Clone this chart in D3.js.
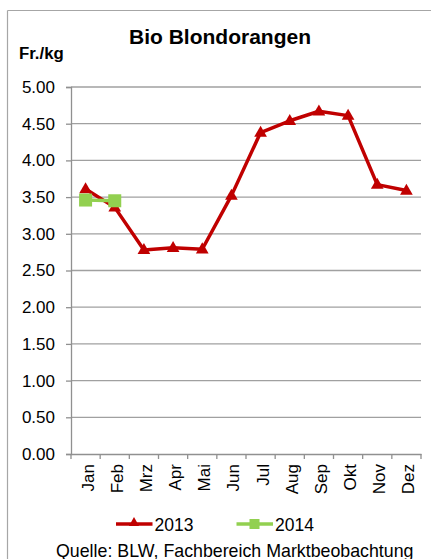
<!DOCTYPE html>
<html>
<head>
<meta charset="utf-8">
<script src="https://cdn.jsdelivr.net/npm/d3@7"></script>
<style>
  html, body { margin: 0; padding: 0; background: #fff; }
  svg { display: block; font-family: "Liberation Sans", Arial, sans-serif; }
</style>
</head>
<body>
<svg id="chart" width="431" height="559"></svg>
<script>
const months = ["Jan","Feb","Mrz","Apr","Mai","Jun","Jul","Aug","Sep","Okt","Nov","Dez"];
const values2013 = [3.61, 3.36, 2.78, 2.81, 2.79, 3.52, 4.38, 4.54, 4.67, 4.61, 3.67, 3.59];
const values2014 = [3.46, 3.45];
const yTicks = [0, 0.5, 1, 1.5, 2, 2.5, 3, 3.5, 4, 4.5, 5];
const seriesNames = ["2013", "2014"];
const titleText = "Bio Blondorangen";
const unitText = "Fr./kg";
const sourceText = "Quelle: BLW, Fachbereich Marktbeobachtung";

(function () {
const red = "#C00000", green = "#92D050";
const svg = d3.select("#chart");

// outer frame
svg.append("line").attr("x1", 7.5).attr("x2", 431).attr("y1", 10.5).attr("y2", 10.5)
  .attr("stroke", "#a6a6a6").attr("stroke-width", 1.2);
svg.append("line").attr("x1", 7.5).attr("x2", 7.5).attr("y1", 10.5).attr("y2", 559)
  .attr("stroke", "#a6a6a6").attr("stroke-width", 1.2);

const pLeft = 71, pRight = 421, pTop = 87, pBottom = 454;
const x = d3.scaleBand().domain(months).range([pLeft, pRight]);
const y = d3.scaleLinear().domain([0, 5]).range([pBottom, pTop]);

// gridlines
svg.append("g").selectAll("line").data(yTicks.filter(d => d > 0)).join("line")
  .attr("x1", pLeft).attr("x2", pRight)
  .attr("y1", d => y(d)).attr("y2", d => y(d))
  .attr("stroke", "#a0a0a0").attr("stroke-width", 1.3);

// y axis
const yAxis = svg.append("g").attr("transform", `translate(${pLeft},0)`)
  .call(d3.axisLeft(y).tickValues(yTicks).tickFormat(d3.format(".2f")).tickSize(5).tickPadding(11));
yAxis.select(".domain").attr("stroke", "#909090").attr("stroke-width", 1.3);
yAxis.selectAll(".tick line").attr("stroke", "#909090").attr("stroke-width", 1.3);
yAxis.selectAll("text").attr("font-size", 17).attr("fill", "#000")
  .attr("font-family", "Liberation Sans, Arial, sans-serif");

// x axis
const xAxis = svg.append("g").attr("transform", `translate(0,${pBottom})`)
  .call(d3.axisBottom(x).tickSize(0).tickFormat(""));
xAxis.select(".domain").attr("stroke", "#909090").attr("stroke-width", 1.3);
// band boundary ticks
const bounds = months.map(m => x(m)).concat([pRight]);
svg.append("g").selectAll("line").data(bounds).join("line")
  .attr("x1", d => d).attr("x2", d => d)
  .attr("y1", pBottom).attr("y2", pBottom + 5)
  .attr("stroke", "#909090").attr("stroke-width", 1.3);
// rotated labels
svg.append("g").selectAll("text").data(months).join("text")
  .attr("transform", d => `translate(${x(d) + x.bandwidth() / 2},464) rotate(-90)`)
  .attr("text-anchor", "end").attr("dy", "0.47em")
  .attr("font-size", 17).attr("fill", "#000")
  .text(d => d);

// 2013 line
const line = d3.line().x((d, i) => x(months[i]) + x.bandwidth() / 2).y(d => y(d));
svg.append("path").datum(values2013).attr("d", line)
  .attr("fill", "none").attr("stroke", red).attr("stroke-width", 3.5).attr("stroke-linejoin", "round");
const tri = d3.symbol().type(d3.symbolTriangle).size(70);
svg.append("g").selectAll("path").data(values2013).join("path")
  .attr("d", tri)
  .attr("transform", (d, i) => `translate(${x(months[i]) + x.bandwidth() / 2},${y(d) + 0.5})`)
  .attr("fill", red);

// 2014 line
svg.append("path").datum(values2014).attr("d", line)
  .attr("fill", "none").attr("stroke", green).attr("stroke-width", 3.5);
svg.append("g").selectAll("rect").data(values2014).join("rect")
  .attr("x", (d, i) => x(months[i]) + x.bandwidth() / 2 - 6.5)
  .attr("y", d => y(d) - 6.5)
  .attr("width", 13).attr("height", 13)
  .attr("fill", green);

// title & unit
svg.append("text").attr("x", 220).attr("y", 44).attr("text-anchor", "middle")
  .attr("font-size", 21).attr("font-weight", "bold").text(titleText);
svg.append("text").attr("x", 19).attr("y", 58.5)
  .attr("font-size", 16.8).attr("font-weight", "bold").text(unitText);

// legend
const legendItems = [
  {name: seriesNames[0], color: red, x0: 116, type: "tri"},
  {name: seriesNames[1], color: green, x0: 236.5, type: "sq"}
];
const lg = svg.append("g").selectAll("g").data(legendItems).join("g");
lg.append("line").attr("x1", d => d.x0).attr("x2", d => d.x0 + 36.5)
  .attr("y1", 524).attr("y2", 524).attr("stroke", d => d.color).attr("stroke-width", 3.5);
lg.filter(d => d.type === "tri").append("path")
  .attr("d", d3.symbol().type(d3.symbolTriangle).size(45))
  .attr("transform", d => `translate(${d.x0 + 18},523)`).attr("fill", d => d.color);
lg.filter(d => d.type === "sq").append("rect")
  .attr("x", d => d.x0 + 13).attr("y", 519).attr("width", 10).attr("height", 10)
  .attr("fill", d => d.color);
lg.append("text").attr("x", d => d.x0 + 38.5).attr("y", 530.5)
  .attr("font-size", 17.5).text(d => d.name);

// source
svg.append("text").attr("x", 56).attr("y", 556.5)
  .attr("font-size", 17.8).text(sourceText);
})();
</script>
</body>
</html>
